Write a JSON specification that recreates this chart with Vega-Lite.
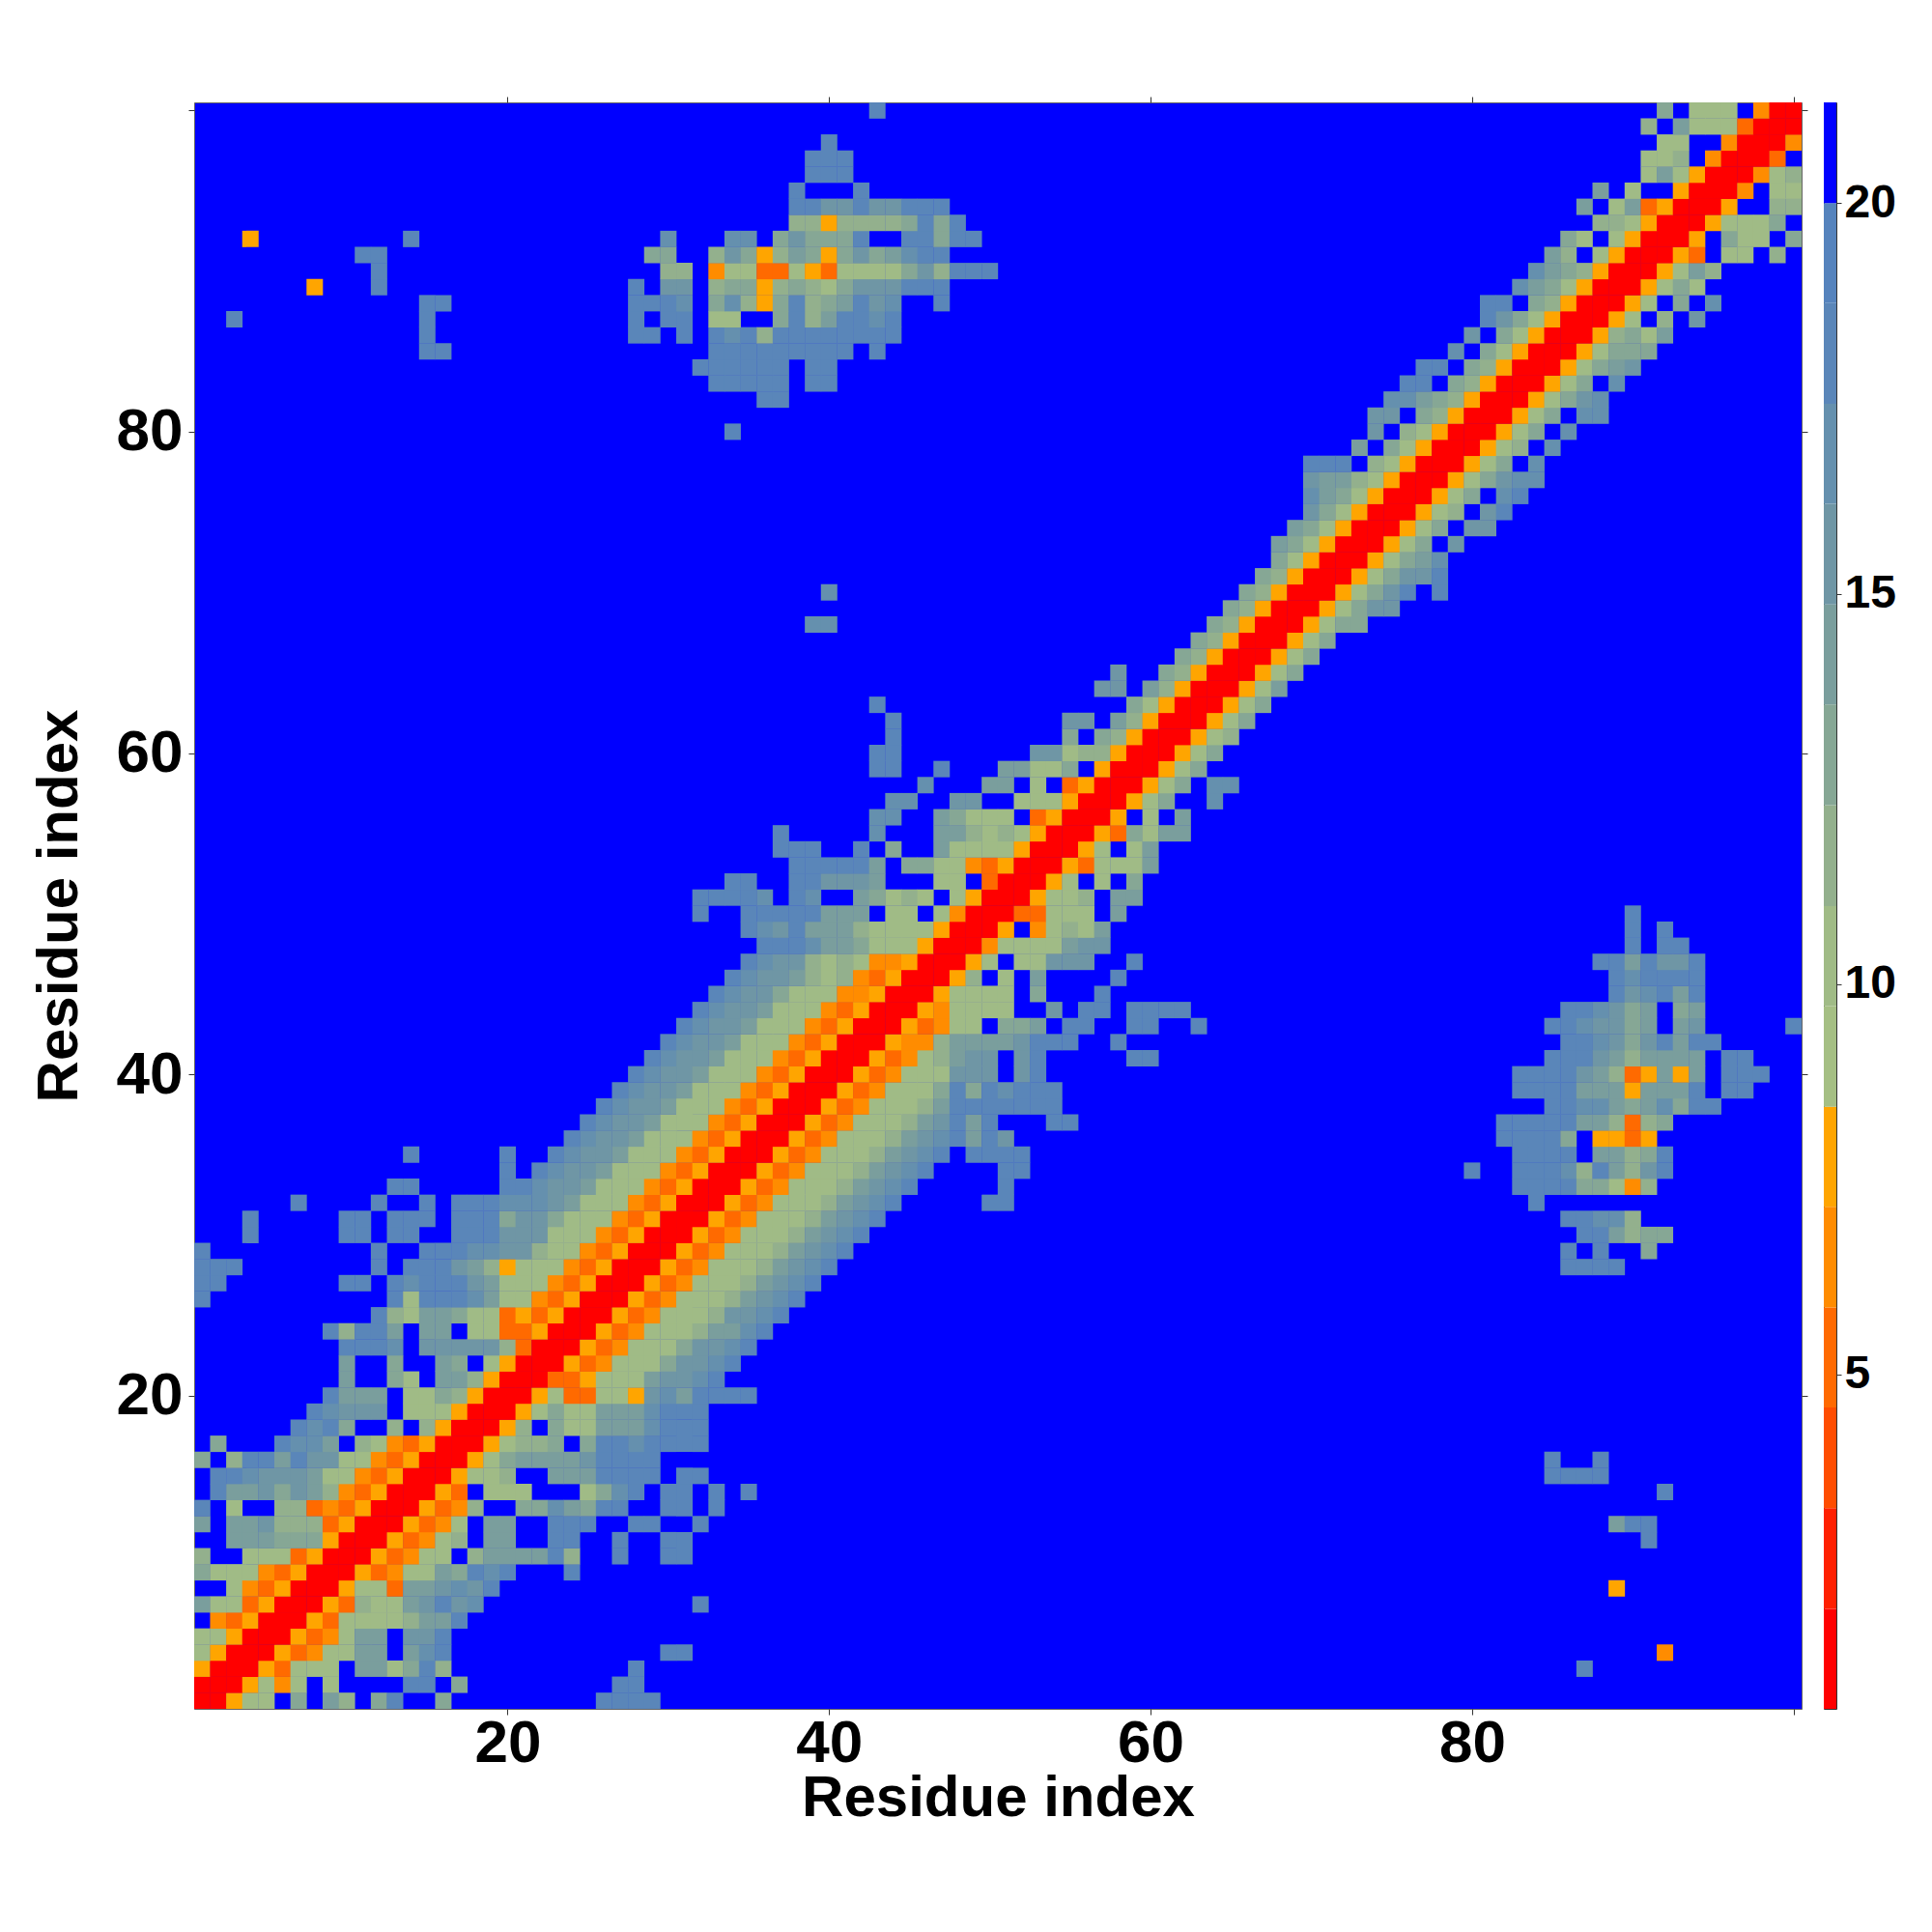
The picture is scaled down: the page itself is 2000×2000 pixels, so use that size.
{"$schema":"https://vega.github.io/schema/vega-lite/v6.json","background":"white","padding":{"left":30,"top":99,"right":5,"bottom":5},"config":{"font":"Liberation Sans"},"spacing":15,"hconcat":[{"width":1664,"height":1663,"view":{"fill":"#0000ff","stroke":"#666666"},"data":{"values":[
{"x":1,"y":1,"d":1},{"x":2,"y":1,"d":1},{"x":3,"y":1,"d":8},{"x":4,"y":1,"d":10},{"x":5,"y":1,"d":10},{"x":7,"y":1,"d":13},{"x":9,"y":1,"d":14},{"x":10,"y":1,"d":12},{"x":12,"y":1,"d":13},{"x":13,"y":1,"d":18},{"x":16,"y":1,"d":13},{"x":26,"y":1,"d":18},{"x":27,"y":1,"d":18},{"x":28,"y":1,"d":18},{"x":29,"y":1,"d":18},
{"x":1,"y":2,"d":1},{"x":2,"y":2,"d":1},{"x":3,"y":2,"d":1},{"x":4,"y":2,"d":8},{"x":5,"y":2,"d":10},{"x":6,"y":2,"d":7},{"x":7,"y":2,"d":10},{"x":9,"y":2,"d":10},{"x":14,"y":2,"d":18},{"x":15,"y":2,"d":18},{"x":17,"y":2,"d":13},{"x":27,"y":2,"d":18},{"x":28,"y":2,"d":18},
{"x":1,"y":3,"d":8},{"x":2,"y":3,"d":1},{"x":3,"y":3,"d":1},{"x":4,"y":3,"d":1},{"x":5,"y":3,"d":8},{"x":6,"y":3,"d":5},{"x":7,"y":3,"d":10},{"x":8,"y":3,"d":10},{"x":9,"y":3,"d":10},{"x":11,"y":3,"d":14},{"x":12,"y":3,"d":14},{"x":13,"y":3,"d":10},{"x":14,"y":3,"d":13},{"x":15,"y":3,"d":18},{"x":16,"y":3,"d":12},{"x":28,"y":3,"d":18},{"x":87,"y":3,"d":18},
{"x":1,"y":4,"d":10},{"x":2,"y":4,"d":8},{"x":3,"y":4,"d":1},{"x":4,"y":4,"d":1},{"x":5,"y":4,"d":1},{"x":6,"y":4,"d":8},{"x":7,"y":4,"d":5},{"x":8,"y":4,"d":7},{"x":9,"y":4,"d":10},{"x":10,"y":4,"d":10},{"x":11,"y":4,"d":14},{"x":12,"y":4,"d":14},{"x":14,"y":4,"d":14},{"x":15,"y":4,"d":17},{"x":16,"y":4,"d":18},{"x":30,"y":4,"d":18},{"x":31,"y":4,"d":18},{"x":92,"y":4,"d":7},
{"x":1,"y":5,"d":10},{"x":2,"y":5,"d":10},{"x":3,"y":5,"d":8},{"x":4,"y":5,"d":1},{"x":5,"y":5,"d":1},{"x":6,"y":5,"d":1},{"x":7,"y":5,"d":8},{"x":8,"y":5,"d":5},{"x":9,"y":5,"d":7},{"x":10,"y":5,"d":10},{"x":11,"y":5,"d":14},{"x":12,"y":5,"d":14},{"x":14,"y":5,"d":15},{"x":15,"y":5,"d":15},{"x":16,"y":5,"d":18},
{"x":2,"y":6,"d":7},{"x":3,"y":6,"d":5},{"x":4,"y":6,"d":8},{"x":5,"y":6,"d":1},{"x":6,"y":6,"d":1},{"x":7,"y":6,"d":1},{"x":8,"y":6,"d":8},{"x":9,"y":6,"d":5},{"x":10,"y":6,"d":10},{"x":11,"y":6,"d":10},{"x":12,"y":6,"d":10},{"x":13,"y":6,"d":10},{"x":14,"y":6,"d":12},{"x":15,"y":6,"d":14},{"x":16,"y":6,"d":14},{"x":17,"y":6,"d":18},
{"x":1,"y":7,"d":14},{"x":2,"y":7,"d":10},{"x":3,"y":7,"d":10},{"x":4,"y":7,"d":5},{"x":5,"y":7,"d":8},{"x":6,"y":7,"d":1},{"x":7,"y":7,"d":1},{"x":8,"y":7,"d":1},{"x":9,"y":7,"d":8},{"x":10,"y":7,"d":5},{"x":11,"y":7,"d":12},{"x":12,"y":7,"d":10},{"x":13,"y":7,"d":10},{"x":14,"y":7,"d":14},{"x":15,"y":7,"d":15},{"x":16,"y":7,"d":18},{"x":17,"y":7,"d":15},{"x":18,"y":7,"d":17},{"x":32,"y":7,"d":18},
{"x":3,"y":8,"d":10},{"x":4,"y":8,"d":7},{"x":5,"y":8,"d":5},{"x":6,"y":8,"d":8},{"x":7,"y":8,"d":1},{"x":8,"y":8,"d":1},{"x":9,"y":8,"d":1},{"x":10,"y":8,"d":8},{"x":11,"y":8,"d":10},{"x":12,"y":8,"d":10},{"x":13,"y":8,"d":5},{"x":14,"y":8,"d":14},{"x":15,"y":8,"d":14},{"x":16,"y":8,"d":15},{"x":17,"y":8,"d":17},{"x":18,"y":8,"d":15},{"x":19,"y":8,"d":18},{"x":89,"y":8,"d":8},
{"x":1,"y":9,"d":13},{"x":2,"y":9,"d":10},{"x":3,"y":9,"d":10},{"x":4,"y":9,"d":10},{"x":5,"y":9,"d":7},{"x":6,"y":9,"d":5},{"x":7,"y":9,"d":8},{"x":8,"y":9,"d":1},{"x":9,"y":9,"d":1},{"x":10,"y":9,"d":1},{"x":11,"y":9,"d":8},{"x":12,"y":9,"d":5},{"x":13,"y":9,"d":7},{"x":14,"y":9,"d":10},{"x":15,"y":9,"d":10},{"x":16,"y":9,"d":14},{"x":17,"y":9,"d":13},{"x":18,"y":9,"d":18},{"x":19,"y":9,"d":17},{"x":20,"y":9,"d":18},{"x":24,"y":9,"d":18},
{"x":1,"y":10,"d":12},{"x":4,"y":10,"d":10},{"x":5,"y":10,"d":10},{"x":6,"y":10,"d":10},{"x":7,"y":10,"d":5},{"x":8,"y":10,"d":8},{"x":9,"y":10,"d":1},{"x":10,"y":10,"d":1},{"x":11,"y":10,"d":1},{"x":12,"y":10,"d":8},{"x":13,"y":10,"d":5},{"x":14,"y":10,"d":7},{"x":15,"y":10,"d":10},{"x":16,"y":10,"d":10},{"x":18,"y":10,"d":12},{"x":19,"y":10,"d":14},{"x":20,"y":10,"d":14},{"x":21,"y":10,"d":14},{"x":22,"y":10,"d":14},{"x":23,"y":10,"d":18},{"x":24,"y":10,"d":12},{"x":27,"y":10,"d":18},{"x":30,"y":10,"d":18},{"x":31,"y":10,"d":18},
{"x":3,"y":11,"d":14},{"x":4,"y":11,"d":14},{"x":5,"y":11,"d":14},{"x":6,"y":11,"d":13},{"x":7,"y":11,"d":13},{"x":8,"y":11,"d":13},{"x":9,"y":11,"d":8},{"x":10,"y":11,"d":1},{"x":11,"y":11,"d":1},{"x":12,"y":11,"d":1},{"x":13,"y":11,"d":8},{"x":14,"y":11,"d":5},{"x":15,"y":11,"d":7},{"x":16,"y":11,"d":10},{"x":17,"y":11,"d":12},{"x":19,"y":11,"d":14},{"x":20,"y":11,"d":14},{"x":23,"y":11,"d":18},{"x":24,"y":11,"d":18},{"x":27,"y":11,"d":18},{"x":30,"y":11,"d":18},{"x":31,"y":11,"d":18},{"x":91,"y":11,"d":18},
{"x":1,"y":12,"d":14},{"x":3,"y":12,"d":14},{"x":4,"y":12,"d":14},{"x":5,"y":12,"d":15},{"x":6,"y":12,"d":12},{"x":7,"y":12,"d":12},{"x":8,"y":12,"d":12},{"x":9,"y":12,"d":5},{"x":10,"y":12,"d":8},{"x":11,"y":12,"d":1},{"x":12,"y":12,"d":1},{"x":13,"y":12,"d":1},{"x":14,"y":12,"d":8},{"x":15,"y":12,"d":5},{"x":16,"y":12,"d":7},{"x":17,"y":12,"d":10},{"x":19,"y":12,"d":14},{"x":20,"y":12,"d":14},{"x":23,"y":12,"d":18},{"x":24,"y":12,"d":18},{"x":25,"y":12,"d":18},{"x":28,"y":12,"d":18},{"x":29,"y":12,"d":18},{"x":32,"y":12,"d":18},{"x":89,"y":12,"d":14},{"x":90,"y":12,"d":18},{"x":91,"y":12,"d":18},
{"x":1,"y":13,"d":18},{"x":3,"y":13,"d":10},{"x":6,"y":13,"d":12},{"x":7,"y":13,"d":12},{"x":8,"y":13,"d":5},{"x":9,"y":13,"d":7},{"x":10,"y":13,"d":5},{"x":11,"y":13,"d":8},{"x":12,"y":13,"d":1},{"x":13,"y":13,"d":1},{"x":14,"y":13,"d":1},{"x":15,"y":13,"d":8},{"x":16,"y":13,"d":5},{"x":17,"y":13,"d":7},{"x":18,"y":13,"d":12},{"x":21,"y":13,"d":13},{"x":22,"y":13,"d":13},{"x":23,"y":13,"d":17},{"x":24,"y":13,"d":14},{"x":25,"y":13,"d":13},{"x":26,"y":13,"d":18},{"x":27,"y":13,"d":18},{"x":30,"y":13,"d":18},{"x":31,"y":13,"d":18},{"x":33,"y":13,"d":18},
{"x":2,"y":14,"d":18},{"x":3,"y":14,"d":14},{"x":4,"y":14,"d":14},{"x":5,"y":14,"d":15},{"x":6,"y":14,"d":13},{"x":7,"y":14,"d":15},{"x":8,"y":14,"d":14},{"x":9,"y":14,"d":12},{"x":10,"y":14,"d":7},{"x":11,"y":14,"d":5},{"x":12,"y":14,"d":8},{"x":13,"y":14,"d":1},{"x":14,"y":14,"d":1},{"x":15,"y":14,"d":1},{"x":16,"y":14,"d":8},{"x":17,"y":14,"d":5},{"x":19,"y":14,"d":10},{"x":20,"y":14,"d":10},{"x":21,"y":14,"d":10},{"x":25,"y":14,"d":10},{"x":26,"y":14,"d":13},{"x":27,"y":14,"d":17},{"x":28,"y":14,"d":18},{"x":30,"y":14,"d":18},{"x":31,"y":14,"d":18},{"x":33,"y":14,"d":18},{"x":35,"y":14,"d":18},{"x":92,"y":14,"d":18},
{"x":2,"y":15,"d":18},{"x":3,"y":15,"d":18},{"x":4,"y":15,"d":17},{"x":5,"y":15,"d":15},{"x":6,"y":15,"d":15},{"x":7,"y":15,"d":15},{"x":8,"y":15,"d":14},{"x":9,"y":15,"d":10},{"x":10,"y":15,"d":10},{"x":11,"y":15,"d":7},{"x":12,"y":15,"d":5},{"x":13,"y":15,"d":8},{"x":14,"y":15,"d":1},{"x":15,"y":15,"d":1},{"x":16,"y":15,"d":1},{"x":17,"y":15,"d":8},{"x":18,"y":15,"d":10},{"x":19,"y":15,"d":10},{"x":20,"y":15,"d":12},{"x":23,"y":15,"d":14},{"x":24,"y":15,"d":14},{"x":25,"y":15,"d":14},{"x":26,"y":15,"d":18},{"x":27,"y":15,"d":18},{"x":28,"y":15,"d":18},{"x":29,"y":15,"d":18},{"x":31,"y":15,"d":18},{"x":32,"y":15,"d":18},{"x":85,"y":15,"d":18},{"x":86,"y":15,"d":18},{"x":87,"y":15,"d":18},{"x":88,"y":15,"d":18},
{"x":1,"y":16,"d":13},{"x":3,"y":16,"d":12},{"x":4,"y":16,"d":18},{"x":5,"y":16,"d":18},{"x":6,"y":16,"d":14},{"x":7,"y":16,"d":18},{"x":8,"y":16,"d":15},{"x":9,"y":16,"d":15},{"x":10,"y":16,"d":10},{"x":11,"y":16,"d":10},{"x":12,"y":16,"d":7},{"x":13,"y":16,"d":5},{"x":14,"y":16,"d":8},{"x":15,"y":16,"d":1},{"x":16,"y":16,"d":1},{"x":17,"y":16,"d":1},{"x":18,"y":16,"d":8},{"x":19,"y":16,"d":10},{"x":20,"y":16,"d":13},{"x":21,"y":16,"d":14},{"x":22,"y":16,"d":14},{"x":23,"y":16,"d":14},{"x":24,"y":16,"d":14},{"x":25,"y":16,"d":15},{"x":26,"y":16,"d":18},{"x":27,"y":16,"d":18},{"x":28,"y":16,"d":18},{"x":29,"y":16,"d":18},{"x":85,"y":16,"d":18},{"x":88,"y":16,"d":18},
{"x":2,"y":17,"d":13},{"x":6,"y":17,"d":18},{"x":7,"y":17,"d":17},{"x":8,"y":17,"d":17},{"x":9,"y":17,"d":14},{"x":11,"y":17,"d":12},{"x":12,"y":17,"d":10},{"x":13,"y":17,"d":7},{"x":14,"y":17,"d":5},{"x":15,"y":17,"d":8},{"x":16,"y":17,"d":1},{"x":17,"y":17,"d":1},{"x":18,"y":17,"d":1},{"x":19,"y":17,"d":8},{"x":20,"y":17,"d":10},{"x":21,"y":17,"d":12},{"x":22,"y":17,"d":12},{"x":23,"y":17,"d":13},{"x":25,"y":17,"d":13},{"x":26,"y":17,"d":18},{"x":27,"y":17,"d":18},{"x":28,"y":17,"d":17},{"x":29,"y":17,"d":18},{"x":30,"y":17,"d":18},{"x":31,"y":17,"d":18},{"x":32,"y":17,"d":18},
{"x":7,"y":18,"d":18},{"x":8,"y":18,"d":17},{"x":9,"y":18,"d":18},{"x":10,"y":18,"d":13},{"x":13,"y":18,"d":12},{"x":15,"y":18,"d":12},{"x":16,"y":18,"d":8},{"x":17,"y":18,"d":1},{"x":18,"y":18,"d":1},{"x":19,"y":18,"d":1},{"x":20,"y":18,"d":8},{"x":21,"y":18,"d":12},{"x":23,"y":18,"d":13},{"x":24,"y":18,"d":10},{"x":25,"y":18,"d":10},{"x":26,"y":18,"d":14},{"x":27,"y":18,"d":14},{"x":28,"y":18,"d":14},{"x":29,"y":18,"d":17},{"x":30,"y":18,"d":18},{"x":31,"y":18,"d":18},{"x":32,"y":18,"d":18},
{"x":8,"y":19,"d":18},{"x":9,"y":19,"d":17},{"x":10,"y":19,"d":15},{"x":11,"y":19,"d":15},{"x":12,"y":19,"d":15},{"x":14,"y":19,"d":10},{"x":15,"y":19,"d":10},{"x":16,"y":19,"d":10},{"x":17,"y":19,"d":8},{"x":18,"y":19,"d":1},{"x":19,"y":19,"d":1},{"x":20,"y":19,"d":1},{"x":21,"y":19,"d":8},{"x":22,"y":19,"d":10},{"x":23,"y":19,"d":13},{"x":24,"y":19,"d":10},{"x":25,"y":19,"d":10},{"x":26,"y":19,"d":14},{"x":27,"y":19,"d":14},{"x":28,"y":19,"d":14},{"x":29,"y":19,"d":17},{"x":30,"y":19,"d":18},{"x":31,"y":19,"d":18},{"x":32,"y":19,"d":18},
{"x":9,"y":20,"d":18},{"x":10,"y":20,"d":14},{"x":11,"y":20,"d":14},{"x":12,"y":20,"d":14},{"x":14,"y":20,"d":10},{"x":15,"y":20,"d":10},{"x":16,"y":20,"d":13},{"x":17,"y":20,"d":12},{"x":18,"y":20,"d":8},{"x":19,"y":20,"d":1},{"x":20,"y":20,"d":1},{"x":21,"y":20,"d":1},{"x":22,"y":20,"d":8},{"x":23,"y":20,"d":10},{"x":24,"y":20,"d":5},{"x":25,"y":20,"d":5},{"x":26,"y":20,"d":10},{"x":27,"y":20,"d":10},{"x":28,"y":20,"d":8},{"x":29,"y":20,"d":15},{"x":30,"y":20,"d":17},{"x":31,"y":20,"d":14},{"x":32,"y":20,"d":18},{"x":33,"y":20,"d":18},{"x":34,"y":20,"d":18},{"x":35,"y":20,"d":18},
{"x":10,"y":21,"d":14},{"x":13,"y":21,"d":13},{"x":14,"y":21,"d":10},{"x":16,"y":21,"d":14},{"x":17,"y":21,"d":14},{"x":18,"y":21,"d":12},{"x":19,"y":21,"d":8},{"x":20,"y":21,"d":1},{"x":21,"y":21,"d":1},{"x":22,"y":21,"d":1},{"x":23,"y":21,"d":5},{"x":24,"y":21,"d":5},{"x":25,"y":21,"d":8},{"x":26,"y":21,"d":10},{"x":27,"y":21,"d":10},{"x":28,"y":21,"d":10},{"x":29,"y":21,"d":14},{"x":30,"y":21,"d":15},{"x":31,"y":21,"d":15},{"x":32,"y":21,"d":17},{"x":33,"y":21,"d":18},
{"x":10,"y":22,"d":14},{"x":13,"y":22,"d":13},{"x":16,"y":22,"d":14},{"x":17,"y":22,"d":13},{"x":19,"y":22,"d":10},{"x":20,"y":22,"d":8},{"x":21,"y":22,"d":1},{"x":22,"y":22,"d":1},{"x":23,"y":22,"d":1},{"x":24,"y":22,"d":8},{"x":25,"y":22,"d":5},{"x":26,"y":22,"d":7},{"x":27,"y":22,"d":10},{"x":28,"y":22,"d":10},{"x":29,"y":22,"d":10},{"x":30,"y":22,"d":13},{"x":31,"y":22,"d":15},{"x":32,"y":22,"d":15},{"x":33,"y":22,"d":17},{"x":34,"y":22,"d":18},
{"x":10,"y":23,"d":18},{"x":11,"y":23,"d":18},{"x":12,"y":23,"d":18},{"x":13,"y":23,"d":17},{"x":15,"y":23,"d":15},{"x":16,"y":23,"d":15},{"x":17,"y":23,"d":15},{"x":18,"y":23,"d":15},{"x":19,"y":23,"d":15},{"x":20,"y":23,"d":12},{"x":21,"y":23,"d":5},{"x":22,"y":23,"d":1},{"x":23,"y":23,"d":1},{"x":24,"y":23,"d":1},{"x":25,"y":23,"d":8},{"x":26,"y":23,"d":5},{"x":27,"y":23,"d":7},{"x":28,"y":23,"d":10},{"x":29,"y":23,"d":10},{"x":30,"y":23,"d":10},{"x":31,"y":23,"d":13},{"x":32,"y":23,"d":15},{"x":33,"y":23,"d":15},{"x":34,"y":23,"d":17},{"x":35,"y":23,"d":18},
{"x":9,"y":24,"d":18},{"x":10,"y":24,"d":12},{"x":11,"y":24,"d":18},{"x":12,"y":24,"d":18},{"x":13,"y":24,"d":14},{"x":15,"y":24,"d":14},{"x":16,"y":24,"d":14},{"x":18,"y":24,"d":10},{"x":19,"y":24,"d":10},{"x":20,"y":24,"d":5},{"x":21,"y":24,"d":5},{"x":22,"y":24,"d":8},{"x":23,"y":24,"d":1},{"x":24,"y":24,"d":1},{"x":25,"y":24,"d":1},{"x":26,"y":24,"d":8},{"x":27,"y":24,"d":5},{"x":28,"y":24,"d":7},{"x":29,"y":24,"d":10},{"x":30,"y":24,"d":10},{"x":31,"y":24,"d":10},{"x":32,"y":24,"d":12},{"x":33,"y":24,"d":14},{"x":34,"y":24,"d":14},{"x":35,"y":24,"d":17},{"x":36,"y":24,"d":18},
{"x":12,"y":25,"d":18},{"x":13,"y":25,"d":12},{"x":14,"y":25,"d":10},{"x":15,"y":25,"d":14},{"x":16,"y":25,"d":14},{"x":17,"y":25,"d":13},{"x":18,"y":25,"d":10},{"x":19,"y":25,"d":10},{"x":20,"y":25,"d":5},{"x":21,"y":25,"d":8},{"x":22,"y":25,"d":5},{"x":23,"y":25,"d":8},{"x":24,"y":25,"d":1},{"x":25,"y":25,"d":1},{"x":26,"y":25,"d":1},{"x":27,"y":25,"d":8},{"x":28,"y":25,"d":5},{"x":29,"y":25,"d":7},{"x":30,"y":25,"d":10},{"x":31,"y":25,"d":10},{"x":32,"y":25,"d":10},{"x":33,"y":25,"d":12},{"x":34,"y":25,"d":15},{"x":35,"y":25,"d":15},{"x":36,"y":25,"d":17},{"x":37,"y":25,"d":18},
{"x":1,"y":26,"d":18},{"x":13,"y":26,"d":18},{"x":14,"y":26,"d":10},{"x":15,"y":26,"d":18},{"x":16,"y":26,"d":18},{"x":17,"y":26,"d":18},{"x":18,"y":26,"d":17},{"x":19,"y":26,"d":14},{"x":20,"y":26,"d":10},{"x":21,"y":26,"d":10},{"x":22,"y":26,"d":7},{"x":23,"y":26,"d":5},{"x":24,"y":26,"d":8},{"x":25,"y":26,"d":1},{"x":26,"y":26,"d":1},{"x":27,"y":26,"d":1},{"x":28,"y":26,"d":8},{"x":29,"y":26,"d":5},{"x":30,"y":26,"d":7},{"x":31,"y":26,"d":10},{"x":32,"y":26,"d":10},{"x":33,"y":26,"d":10},{"x":34,"y":26,"d":12},{"x":35,"y":26,"d":14},{"x":36,"y":26,"d":15},{"x":37,"y":26,"d":17},{"x":38,"y":26,"d":18},
{"x":1,"y":27,"d":18},{"x":2,"y":27,"d":18},{"x":10,"y":27,"d":18},{"x":11,"y":27,"d":18},{"x":13,"y":27,"d":18},{"x":14,"y":27,"d":17},{"x":15,"y":27,"d":18},{"x":16,"y":27,"d":18},{"x":17,"y":27,"d":18},{"x":18,"y":27,"d":15},{"x":19,"y":27,"d":14},{"x":20,"y":27,"d":10},{"x":21,"y":27,"d":10},{"x":22,"y":27,"d":10},{"x":23,"y":27,"d":7},{"x":24,"y":27,"d":5},{"x":25,"y":27,"d":8},{"x":26,"y":27,"d":1},{"x":27,"y":27,"d":1},{"x":28,"y":27,"d":1},{"x":29,"y":27,"d":8},{"x":30,"y":27,"d":5},{"x":31,"y":27,"d":7},{"x":32,"y":27,"d":10},{"x":33,"y":27,"d":10},{"x":34,"y":27,"d":10},{"x":35,"y":27,"d":12},{"x":36,"y":27,"d":14},{"x":37,"y":27,"d":15},{"x":38,"y":27,"d":17},{"x":39,"y":27,"d":18},
{"x":1,"y":28,"d":18},{"x":2,"y":28,"d":18},{"x":3,"y":28,"d":18},{"x":12,"y":28,"d":18},{"x":14,"y":28,"d":18},{"x":15,"y":28,"d":18},{"x":16,"y":28,"d":18},{"x":17,"y":28,"d":15},{"x":18,"y":28,"d":14},{"x":19,"y":28,"d":12},{"x":20,"y":28,"d":8},{"x":21,"y":28,"d":10},{"x":22,"y":28,"d":10},{"x":23,"y":28,"d":10},{"x":24,"y":28,"d":7},{"x":25,"y":28,"d":5},{"x":26,"y":28,"d":8},{"x":27,"y":28,"d":1},{"x":28,"y":28,"d":1},{"x":29,"y":28,"d":1},{"x":30,"y":28,"d":8},{"x":31,"y":28,"d":5},{"x":32,"y":28,"d":7},{"x":33,"y":28,"d":10},{"x":34,"y":28,"d":10},{"x":35,"y":28,"d":10},{"x":36,"y":28,"d":12},{"x":37,"y":28,"d":14},{"x":38,"y":28,"d":15},{"x":39,"y":28,"d":17},{"x":40,"y":28,"d":18},{"x":86,"y":28,"d":18},{"x":87,"y":28,"d":18},{"x":88,"y":28,"d":18},{"x":89,"y":28,"d":18},
{"x":1,"y":29,"d":18},{"x":12,"y":29,"d":18},{"x":15,"y":29,"d":18},{"x":16,"y":29,"d":18},{"x":17,"y":29,"d":18},{"x":18,"y":29,"d":17},{"x":19,"y":29,"d":17},{"x":20,"y":29,"d":15},{"x":21,"y":29,"d":15},{"x":22,"y":29,"d":12},{"x":23,"y":29,"d":10},{"x":24,"y":29,"d":10},{"x":25,"y":29,"d":7},{"x":26,"y":29,"d":5},{"x":27,"y":29,"d":8},{"x":28,"y":29,"d":1},{"x":29,"y":29,"d":1},{"x":30,"y":29,"d":1},{"x":31,"y":29,"d":8},{"x":32,"y":29,"d":5},{"x":33,"y":29,"d":7},{"x":34,"y":29,"d":10},{"x":35,"y":29,"d":10},{"x":36,"y":29,"d":10},{"x":37,"y":29,"d":12},{"x":38,"y":29,"d":14},{"x":39,"y":29,"d":15},{"x":40,"y":29,"d":17},{"x":41,"y":29,"d":18},{"x":86,"y":29,"d":18},{"x":88,"y":29,"d":18},{"x":91,"y":29,"d":13},
{"x":4,"y":30,"d":18},{"x":10,"y":30,"d":18},{"x":11,"y":30,"d":18},{"x":13,"y":30,"d":18},{"x":14,"y":30,"d":18},{"x":17,"y":30,"d":18},{"x":18,"y":30,"d":18},{"x":19,"y":30,"d":18},{"x":20,"y":30,"d":15},{"x":21,"y":30,"d":15},{"x":22,"y":30,"d":15},{"x":23,"y":30,"d":10},{"x":24,"y":30,"d":10},{"x":25,"y":30,"d":10},{"x":26,"y":30,"d":7},{"x":27,"y":30,"d":5},{"x":28,"y":30,"d":8},{"x":29,"y":30,"d":1},{"x":30,"y":30,"d":1},{"x":31,"y":30,"d":1},{"x":32,"y":30,"d":8},{"x":33,"y":30,"d":5},{"x":34,"y":30,"d":7},{"x":35,"y":30,"d":10},{"x":36,"y":30,"d":10},{"x":37,"y":30,"d":10},{"x":38,"y":30,"d":12},{"x":39,"y":30,"d":14},{"x":40,"y":30,"d":15},{"x":41,"y":30,"d":17},{"x":42,"y":30,"d":18},{"x":87,"y":30,"d":18},{"x":88,"y":30,"d":18},{"x":89,"y":30,"d":14},{"x":90,"y":30,"d":12},{"x":91,"y":30,"d":13},{"x":92,"y":30,"d":13},
{"x":4,"y":31,"d":18},{"x":10,"y":31,"d":18},{"x":11,"y":31,"d":18},{"x":13,"y":31,"d":18},{"x":14,"y":31,"d":18},{"x":15,"y":31,"d":18},{"x":17,"y":31,"d":18},{"x":18,"y":31,"d":18},{"x":19,"y":31,"d":18},{"x":20,"y":31,"d":13},{"x":21,"y":31,"d":15},{"x":22,"y":31,"d":15},{"x":23,"y":31,"d":13},{"x":24,"y":31,"d":10},{"x":25,"y":31,"d":10},{"x":26,"y":31,"d":10},{"x":27,"y":31,"d":7},{"x":28,"y":31,"d":5},{"x":29,"y":31,"d":8},{"x":30,"y":31,"d":1},{"x":31,"y":31,"d":1},{"x":32,"y":31,"d":1},{"x":33,"y":31,"d":8},{"x":34,"y":31,"d":5},{"x":35,"y":31,"d":7},{"x":36,"y":31,"d":10},{"x":37,"y":31,"d":10},{"x":38,"y":31,"d":10},{"x":39,"y":31,"d":12},{"x":40,"y":31,"d":14},{"x":41,"y":31,"d":15},{"x":42,"y":31,"d":17},{"x":43,"y":31,"d":18},{"x":86,"y":31,"d":18},{"x":87,"y":31,"d":18},{"x":88,"y":31,"d":17},{"x":89,"y":31,"d":17},{"x":90,"y":31,"d":12},
{"x":7,"y":32,"d":18},{"x":12,"y":32,"d":18},{"x":15,"y":32,"d":18},{"x":17,"y":32,"d":18},{"x":18,"y":32,"d":18},{"x":19,"y":32,"d":18},{"x":20,"y":32,"d":17},{"x":21,"y":32,"d":17},{"x":22,"y":32,"d":17},{"x":23,"y":32,"d":15},{"x":24,"y":32,"d":14},{"x":25,"y":32,"d":10},{"x":26,"y":32,"d":10},{"x":27,"y":32,"d":10},{"x":28,"y":32,"d":7},{"x":29,"y":32,"d":5},{"x":30,"y":32,"d":8},{"x":31,"y":32,"d":1},{"x":32,"y":32,"d":1},{"x":33,"y":32,"d":1},{"x":34,"y":32,"d":8},{"x":35,"y":32,"d":5},{"x":36,"y":32,"d":7},{"x":37,"y":32,"d":10},{"x":38,"y":32,"d":10},{"x":39,"y":32,"d":10},{"x":40,"y":32,"d":12},{"x":41,"y":32,"d":14},{"x":42,"y":32,"d":15},{"x":43,"y":32,"d":17},{"x":44,"y":32,"d":18},{"x":50,"y":32,"d":18},{"x":51,"y":32,"d":18},{"x":84,"y":32,"d":18},
{"x":13,"y":33,"d":18},{"x":14,"y":33,"d":18},{"x":20,"y":33,"d":18},{"x":21,"y":33,"d":18},{"x":22,"y":33,"d":17},{"x":23,"y":33,"d":15},{"x":24,"y":33,"d":15},{"x":25,"y":33,"d":14},{"x":26,"y":33,"d":10},{"x":27,"y":33,"d":10},{"x":28,"y":33,"d":10},{"x":29,"y":33,"d":7},{"x":30,"y":33,"d":5},{"x":31,"y":33,"d":8},{"x":32,"y":33,"d":1},{"x":33,"y":33,"d":1},{"x":34,"y":33,"d":1},{"x":35,"y":33,"d":8},{"x":36,"y":33,"d":5},{"x":37,"y":33,"d":7},{"x":38,"y":33,"d":10},{"x":39,"y":33,"d":10},{"x":40,"y":33,"d":10},{"x":41,"y":33,"d":12},{"x":42,"y":33,"d":14},{"x":43,"y":33,"d":15},{"x":44,"y":33,"d":17},{"x":45,"y":33,"d":18},{"x":51,"y":33,"d":18},{"x":83,"y":33,"d":18},{"x":84,"y":33,"d":18},{"x":85,"y":33,"d":18},{"x":86,"y":33,"d":18},{"x":87,"y":33,"d":13},{"x":88,"y":33,"d":13},{"x":89,"y":33,"d":10},{"x":90,"y":33,"d":7},{"x":91,"y":33,"d":12},
{"x":20,"y":34,"d":18},{"x":22,"y":34,"d":18},{"x":23,"y":34,"d":17},{"x":24,"y":34,"d":15},{"x":25,"y":34,"d":15},{"x":26,"y":34,"d":14},{"x":27,"y":34,"d":10},{"x":28,"y":34,"d":10},{"x":29,"y":34,"d":10},{"x":30,"y":34,"d":7},{"x":31,"y":34,"d":5},{"x":32,"y":34,"d":8},{"x":33,"y":34,"d":1},{"x":34,"y":34,"d":1},{"x":35,"y":34,"d":1},{"x":36,"y":34,"d":8},{"x":37,"y":34,"d":5},{"x":38,"y":34,"d":7},{"x":39,"y":34,"d":10},{"x":40,"y":34,"d":10},{"x":41,"y":34,"d":10},{"x":42,"y":34,"d":12},{"x":43,"y":34,"d":14},{"x":44,"y":34,"d":15},{"x":45,"y":34,"d":17},{"x":46,"y":34,"d":18},{"x":51,"y":34,"d":18},{"x":52,"y":34,"d":18},{"x":80,"y":34,"d":18},{"x":83,"y":34,"d":18},{"x":84,"y":34,"d":18},{"x":85,"y":34,"d":18},{"x":86,"y":34,"d":17},{"x":87,"y":34,"d":12},{"x":88,"y":34,"d":18},{"x":89,"y":34,"d":14},{"x":90,"y":34,"d":12},{"x":91,"y":34,"d":15},{"x":92,"y":34,"d":18},
{"x":14,"y":35,"d":18},{"x":20,"y":35,"d":18},{"x":23,"y":35,"d":18},{"x":24,"y":35,"d":17},{"x":25,"y":35,"d":15},{"x":26,"y":35,"d":15},{"x":27,"y":35,"d":14},{"x":28,"y":35,"d":10},{"x":29,"y":35,"d":10},{"x":30,"y":35,"d":10},{"x":31,"y":35,"d":7},{"x":32,"y":35,"d":5},{"x":33,"y":35,"d":8},{"x":34,"y":35,"d":1},{"x":35,"y":35,"d":1},{"x":36,"y":35,"d":1},{"x":37,"y":35,"d":8},{"x":38,"y":35,"d":5},{"x":39,"y":35,"d":7},{"x":40,"y":35,"d":10},{"x":41,"y":35,"d":10},{"x":42,"y":35,"d":10},{"x":43,"y":35,"d":12},{"x":44,"y":35,"d":14},{"x":45,"y":35,"d":15},{"x":46,"y":35,"d":17},{"x":47,"y":35,"d":18},{"x":49,"y":35,"d":18},{"x":50,"y":35,"d":18},{"x":51,"y":35,"d":18},{"x":52,"y":35,"d":18},{"x":83,"y":35,"d":18},{"x":84,"y":35,"d":18},{"x":85,"y":35,"d":18},{"x":86,"y":35,"d":18},{"x":88,"y":35,"d":14},{"x":89,"y":35,"d":14},{"x":90,"y":35,"d":12},{"x":91,"y":35,"d":13},{"x":92,"y":35,"d":18},
{"x":24,"y":36,"d":18},{"x":25,"y":36,"d":17},{"x":26,"y":36,"d":15},{"x":27,"y":36,"d":15},{"x":28,"y":36,"d":14},{"x":29,"y":36,"d":10},{"x":30,"y":36,"d":10},{"x":31,"y":36,"d":10},{"x":32,"y":36,"d":7},{"x":33,"y":36,"d":5},{"x":34,"y":36,"d":8},{"x":35,"y":36,"d":1},{"x":36,"y":36,"d":1},{"x":37,"y":36,"d":1},{"x":38,"y":36,"d":8},{"x":39,"y":36,"d":5},{"x":40,"y":36,"d":7},{"x":41,"y":36,"d":10},{"x":42,"y":36,"d":10},{"x":43,"y":36,"d":10},{"x":44,"y":36,"d":12},{"x":45,"y":36,"d":14},{"x":46,"y":36,"d":15},{"x":47,"y":36,"d":17},{"x":48,"y":36,"d":18},{"x":49,"y":36,"d":14},{"x":50,"y":36,"d":18},{"x":51,"y":36,"d":15},{"x":82,"y":36,"d":18},{"x":83,"y":36,"d":18},{"x":84,"y":36,"d":18},{"x":85,"y":36,"d":18},{"x":86,"y":36,"d":13},{"x":88,"y":36,"d":8},{"x":89,"y":36,"d":8},{"x":90,"y":36,"d":5},{"x":91,"y":36,"d":8},
{"x":25,"y":37,"d":18},{"x":26,"y":37,"d":17},{"x":27,"y":37,"d":15},{"x":28,"y":37,"d":15},{"x":29,"y":37,"d":14},{"x":30,"y":37,"d":10},{"x":31,"y":37,"d":10},{"x":32,"y":37,"d":10},{"x":33,"y":37,"d":7},{"x":34,"y":37,"d":5},{"x":35,"y":37,"d":8},{"x":36,"y":37,"d":1},{"x":37,"y":37,"d":1},{"x":38,"y":37,"d":1},{"x":39,"y":37,"d":8},{"x":40,"y":37,"d":5},{"x":41,"y":37,"d":7},{"x":42,"y":37,"d":10},{"x":43,"y":37,"d":10},{"x":44,"y":37,"d":10},{"x":45,"y":37,"d":12},{"x":46,"y":37,"d":14},{"x":47,"y":37,"d":15},{"x":48,"y":37,"d":18},{"x":49,"y":37,"d":14},{"x":50,"y":37,"d":18},{"x":54,"y":37,"d":18},{"x":55,"y":37,"d":18},{"x":82,"y":37,"d":18},{"x":83,"y":37,"d":18},{"x":84,"y":37,"d":18},{"x":85,"y":37,"d":18},{"x":86,"y":37,"d":18},{"x":87,"y":37,"d":14},{"x":88,"y":37,"d":14},{"x":89,"y":37,"d":12},{"x":90,"y":37,"d":5},{"x":91,"y":37,"d":12},{"x":92,"y":37,"d":13},
{"x":26,"y":38,"d":18},{"x":27,"y":38,"d":17},{"x":28,"y":38,"d":15},{"x":29,"y":38,"d":15},{"x":30,"y":38,"d":14},{"x":31,"y":38,"d":10},{"x":32,"y":38,"d":10},{"x":33,"y":38,"d":10},{"x":34,"y":38,"d":7},{"x":35,"y":38,"d":5},{"x":36,"y":38,"d":8},{"x":37,"y":38,"d":1},{"x":38,"y":38,"d":1},{"x":39,"y":38,"d":1},{"x":40,"y":38,"d":8},{"x":41,"y":38,"d":5},{"x":42,"y":38,"d":7},{"x":43,"y":38,"d":10},{"x":44,"y":38,"d":10},{"x":45,"y":38,"d":10},{"x":46,"y":38,"d":12},{"x":47,"y":38,"d":14},{"x":48,"y":38,"d":18},{"x":49,"y":38,"d":18},{"x":50,"y":38,"d":18},{"x":51,"y":38,"d":18},{"x":52,"y":38,"d":18},{"x":53,"y":38,"d":18},{"x":54,"y":38,"d":18},{"x":85,"y":38,"d":18},{"x":86,"y":38,"d":18},{"x":87,"y":38,"d":17},{"x":88,"y":38,"d":17},{"x":89,"y":38,"d":14},{"x":90,"y":38,"d":13},{"x":91,"y":38,"d":14},{"x":92,"y":38,"d":17},{"x":93,"y":38,"d":13},{"x":94,"y":38,"d":18},{"x":95,"y":38,"d":18},
{"x":27,"y":39,"d":18},{"x":28,"y":39,"d":17},{"x":29,"y":39,"d":15},{"x":30,"y":39,"d":15},{"x":31,"y":39,"d":14},{"x":32,"y":39,"d":10},{"x":33,"y":39,"d":10},{"x":34,"y":39,"d":10},{"x":35,"y":39,"d":7},{"x":36,"y":39,"d":5},{"x":37,"y":39,"d":8},{"x":38,"y":39,"d":1},{"x":39,"y":39,"d":1},{"x":40,"y":39,"d":1},{"x":41,"y":39,"d":8},{"x":42,"y":39,"d":5},{"x":43,"y":39,"d":7},{"x":44,"y":39,"d":10},{"x":45,"y":39,"d":10},{"x":46,"y":39,"d":10},{"x":47,"y":39,"d":13},{"x":48,"y":39,"d":18},{"x":49,"y":39,"d":13},{"x":50,"y":39,"d":18},{"x":51,"y":39,"d":17},{"x":52,"y":39,"d":18},{"x":53,"y":39,"d":18},{"x":54,"y":39,"d":18},{"x":83,"y":39,"d":18},{"x":84,"y":39,"d":18},{"x":85,"y":39,"d":18},{"x":86,"y":39,"d":18},{"x":87,"y":39,"d":14},{"x":88,"y":39,"d":14},{"x":89,"y":39,"d":14},{"x":90,"y":39,"d":8},{"x":91,"y":39,"d":14},{"x":92,"y":39,"d":14},{"x":93,"y":39,"d":14},{"x":94,"y":39,"d":18},{"x":96,"y":39,"d":18},{"x":97,"y":39,"d":18},
{"x":28,"y":40,"d":18},{"x":29,"y":40,"d":17},{"x":30,"y":40,"d":15},{"x":31,"y":40,"d":15},{"x":32,"y":40,"d":14},{"x":33,"y":40,"d":10},{"x":34,"y":40,"d":10},{"x":35,"y":40,"d":10},{"x":36,"y":40,"d":7},{"x":37,"y":40,"d":5},{"x":38,"y":40,"d":8},{"x":39,"y":40,"d":1},{"x":40,"y":40,"d":1},{"x":41,"y":40,"d":1},{"x":42,"y":40,"d":8},{"x":43,"y":40,"d":5},{"x":44,"y":40,"d":7},{"x":45,"y":40,"d":10},{"x":46,"y":40,"d":10},{"x":47,"y":40,"d":10},{"x":48,"y":40,"d":15},{"x":49,"y":40,"d":15},{"x":50,"y":40,"d":15},{"x":52,"y":40,"d":15},{"x":53,"y":40,"d":18},{"x":83,"y":40,"d":18},{"x":84,"y":40,"d":18},{"x":85,"y":40,"d":18},{"x":86,"y":40,"d":18},{"x":87,"y":40,"d":15},{"x":88,"y":40,"d":14},{"x":89,"y":40,"d":12},{"x":90,"y":40,"d":5},{"x":91,"y":40,"d":8},{"x":92,"y":40,"d":14},{"x":93,"y":40,"d":8},{"x":94,"y":40,"d":14},{"x":96,"y":40,"d":18},{"x":97,"y":40,"d":18},{"x":98,"y":40,"d":18},
{"x":29,"y":41,"d":18},{"x":30,"y":41,"d":17},{"x":31,"y":41,"d":15},{"x":32,"y":41,"d":15},{"x":33,"y":41,"d":14},{"x":34,"y":41,"d":10},{"x":35,"y":41,"d":10},{"x":36,"y":41,"d":10},{"x":37,"y":41,"d":7},{"x":38,"y":41,"d":5},{"x":39,"y":41,"d":8},{"x":40,"y":41,"d":1},{"x":41,"y":41,"d":1},{"x":42,"y":41,"d":1},{"x":43,"y":41,"d":8},{"x":44,"y":41,"d":5},{"x":45,"y":41,"d":7},{"x":46,"y":41,"d":10},{"x":47,"y":41,"d":12},{"x":48,"y":41,"d":14},{"x":49,"y":41,"d":15},{"x":50,"y":41,"d":15},{"x":52,"y":41,"d":15},{"x":53,"y":41,"d":18},{"x":59,"y":41,"d":18},{"x":60,"y":41,"d":18},{"x":85,"y":41,"d":18},{"x":86,"y":41,"d":18},{"x":87,"y":41,"d":18},{"x":88,"y":41,"d":15},{"x":89,"y":41,"d":14},{"x":90,"y":41,"d":12},{"x":91,"y":41,"d":14},{"x":92,"y":41,"d":14},{"x":93,"y":41,"d":14},{"x":94,"y":41,"d":14},{"x":96,"y":41,"d":18},{"x":97,"y":41,"d":18},
{"x":30,"y":42,"d":18},{"x":31,"y":42,"d":17},{"x":32,"y":42,"d":15},{"x":33,"y":42,"d":15},{"x":34,"y":42,"d":14},{"x":35,"y":42,"d":10},{"x":36,"y":42,"d":10},{"x":37,"y":42,"d":10},{"x":38,"y":42,"d":7},{"x":39,"y":42,"d":5},{"x":40,"y":42,"d":8},{"x":41,"y":42,"d":1},{"x":42,"y":42,"d":1},{"x":43,"y":42,"d":1},{"x":44,"y":42,"d":8},{"x":45,"y":42,"d":7},{"x":46,"y":42,"d":7},{"x":47,"y":42,"d":12},{"x":48,"y":42,"d":14},{"x":49,"y":42,"d":14},{"x":50,"y":42,"d":14},{"x":51,"y":42,"d":14},{"x":52,"y":42,"d":15},{"x":53,"y":42,"d":18},{"x":54,"y":42,"d":18},{"x":55,"y":42,"d":18},{"x":58,"y":42,"d":18},{"x":86,"y":42,"d":18},{"x":87,"y":42,"d":18},{"x":88,"y":42,"d":17},{"x":89,"y":42,"d":15},{"x":90,"y":42,"d":13},{"x":91,"y":42,"d":15},{"x":92,"y":42,"d":18},{"x":93,"y":42,"d":14},{"x":94,"y":42,"d":18},{"x":95,"y":42,"d":18},
{"x":31,"y":43,"d":18},{"x":32,"y":43,"d":17},{"x":33,"y":43,"d":15},{"x":34,"y":43,"d":15},{"x":35,"y":43,"d":14},{"x":36,"y":43,"d":10},{"x":37,"y":43,"d":10},{"x":38,"y":43,"d":10},{"x":39,"y":43,"d":7},{"x":40,"y":43,"d":5},{"x":41,"y":43,"d":8},{"x":42,"y":43,"d":1},{"x":43,"y":43,"d":1},{"x":44,"y":43,"d":1},{"x":45,"y":43,"d":8},{"x":46,"y":43,"d":5},{"x":47,"y":43,"d":7},{"x":48,"y":43,"d":10},{"x":49,"y":43,"d":10},{"x":51,"y":43,"d":13},{"x":52,"y":43,"d":13},{"x":53,"y":43,"d":14},{"x":55,"y":43,"d":18},{"x":56,"y":43,"d":18},{"x":59,"y":43,"d":18},{"x":60,"y":43,"d":18},{"x":63,"y":43,"d":18},{"x":85,"y":43,"d":18},{"x":86,"y":43,"d":18},{"x":87,"y":43,"d":17},{"x":88,"y":43,"d":15},{"x":89,"y":43,"d":15},{"x":90,"y":43,"d":13},{"x":91,"y":43,"d":14},{"x":93,"y":43,"d":14},{"x":94,"y":43,"d":15},{"x":100,"y":43,"d":18},
{"x":32,"y":44,"d":18},{"x":33,"y":44,"d":17},{"x":34,"y":44,"d":15},{"x":35,"y":44,"d":15},{"x":36,"y":44,"d":14},{"x":37,"y":44,"d":10},{"x":38,"y":44,"d":10},{"x":39,"y":44,"d":10},{"x":40,"y":44,"d":7},{"x":41,"y":44,"d":5},{"x":42,"y":44,"d":8},{"x":43,"y":44,"d":1},{"x":44,"y":44,"d":1},{"x":45,"y":44,"d":1},{"x":46,"y":44,"d":8},{"x":47,"y":44,"d":7},{"x":48,"y":44,"d":10},{"x":49,"y":44,"d":10},{"x":50,"y":44,"d":10},{"x":51,"y":44,"d":10},{"x":54,"y":44,"d":15},{"x":56,"y":44,"d":18},{"x":57,"y":44,"d":18},{"x":59,"y":44,"d":18},{"x":60,"y":44,"d":18},{"x":61,"y":44,"d":18},{"x":62,"y":44,"d":18},{"x":86,"y":44,"d":18},{"x":87,"y":44,"d":18},{"x":88,"y":44,"d":17},{"x":89,"y":44,"d":15},{"x":90,"y":44,"d":13},{"x":91,"y":44,"d":14},{"x":93,"y":44,"d":13},{"x":94,"y":44,"d":14},
{"x":33,"y":45,"d":18},{"x":34,"y":45,"d":17},{"x":35,"y":45,"d":15},{"x":36,"y":45,"d":15},{"x":37,"y":45,"d":13},{"x":38,"y":45,"d":10},{"x":39,"y":45,"d":10},{"x":40,"y":45,"d":10},{"x":41,"y":45,"d":7},{"x":42,"y":45,"d":7},{"x":43,"y":45,"d":8},{"x":44,"y":45,"d":1},{"x":45,"y":45,"d":1},{"x":46,"y":45,"d":1},{"x":47,"y":45,"d":8},{"x":48,"y":45,"d":10},{"x":49,"y":45,"d":10},{"x":50,"y":45,"d":10},{"x":51,"y":45,"d":10},{"x":53,"y":45,"d":13},{"x":57,"y":45,"d":18},{"x":89,"y":45,"d":18},{"x":90,"y":45,"d":15},{"x":91,"y":45,"d":17},{"x":92,"y":45,"d":18},{"x":93,"y":45,"d":14},{"x":94,"y":45,"d":18},
{"x":34,"y":46,"d":18},{"x":35,"y":46,"d":17},{"x":36,"y":46,"d":15},{"x":37,"y":46,"d":15},{"x":38,"y":46,"d":14},{"x":39,"y":46,"d":12},{"x":40,"y":46,"d":10},{"x":41,"y":46,"d":12},{"x":42,"y":46,"d":7},{"x":43,"y":46,"d":5},{"x":44,"y":46,"d":8},{"x":45,"y":46,"d":1},{"x":46,"y":46,"d":1},{"x":47,"y":46,"d":1},{"x":48,"y":46,"d":8},{"x":49,"y":46,"d":12},{"x":51,"y":46,"d":10},{"x":53,"y":46,"d":14},{"x":58,"y":46,"d":18},{"x":89,"y":46,"d":18},{"x":90,"y":46,"d":17},{"x":91,"y":46,"d":18},{"x":92,"y":46,"d":18},{"x":93,"y":46,"d":18},{"x":94,"y":46,"d":18},
{"x":35,"y":47,"d":18},{"x":36,"y":47,"d":17},{"x":37,"y":47,"d":15},{"x":38,"y":47,"d":15},{"x":39,"y":47,"d":12},{"x":40,"y":47,"d":10},{"x":41,"y":47,"d":12},{"x":42,"y":47,"d":10},{"x":43,"y":47,"d":7},{"x":44,"y":47,"d":7},{"x":45,"y":47,"d":8},{"x":46,"y":47,"d":1},{"x":47,"y":47,"d":1},{"x":48,"y":47,"d":1},{"x":49,"y":47,"d":8},{"x":50,"y":47,"d":10},{"x":52,"y":47,"d":10},{"x":53,"y":47,"d":10},{"x":54,"y":47,"d":15},{"x":55,"y":47,"d":15},{"x":56,"y":47,"d":15},{"x":59,"y":47,"d":18},{"x":88,"y":47,"d":18},{"x":89,"y":47,"d":18},{"x":90,"y":47,"d":14},{"x":91,"y":47,"d":18},{"x":92,"y":47,"d":15},{"x":93,"y":47,"d":15},{"x":94,"y":47,"d":18},
{"x":36,"y":48,"d":18},{"x":37,"y":48,"d":18},{"x":38,"y":48,"d":18},{"x":39,"y":48,"d":17},{"x":40,"y":48,"d":14},{"x":41,"y":48,"d":14},{"x":42,"y":48,"d":13},{"x":43,"y":48,"d":10},{"x":44,"y":48,"d":10},{"x":45,"y":48,"d":10},{"x":46,"y":48,"d":8},{"x":47,"y":48,"d":1},{"x":48,"y":48,"d":1},{"x":49,"y":48,"d":1},{"x":50,"y":48,"d":7},{"x":51,"y":48,"d":10},{"x":52,"y":48,"d":10},{"x":53,"y":48,"d":10},{"x":54,"y":48,"d":10},{"x":55,"y":48,"d":14},{"x":56,"y":48,"d":15},{"x":57,"y":48,"d":15},{"x":90,"y":48,"d":18},{"x":92,"y":48,"d":18},{"x":93,"y":48,"d":18},
{"x":35,"y":49,"d":18},{"x":36,"y":49,"d":17},{"x":37,"y":49,"d":15},{"x":38,"y":49,"d":18},{"x":39,"y":49,"d":14},{"x":40,"y":49,"d":14},{"x":41,"y":49,"d":14},{"x":42,"y":49,"d":12},{"x":43,"y":49,"d":10},{"x":44,"y":49,"d":10},{"x":45,"y":49,"d":10},{"x":46,"y":49,"d":10},{"x":47,"y":49,"d":8},{"x":48,"y":49,"d":1},{"x":49,"y":49,"d":1},{"x":50,"y":49,"d":1},{"x":51,"y":49,"d":8},{"x":53,"y":49,"d":7},{"x":54,"y":49,"d":10},{"x":55,"y":49,"d":12},{"x":56,"y":49,"d":10},{"x":57,"y":49,"d":14},{"x":90,"y":49,"d":18},{"x":92,"y":49,"d":18},
{"x":32,"y":50,"d":18},{"x":35,"y":50,"d":18},{"x":36,"y":50,"d":18},{"x":37,"y":50,"d":18},{"x":38,"y":50,"d":18},{"x":39,"y":50,"d":18},{"x":40,"y":50,"d":14},{"x":41,"y":50,"d":14},{"x":42,"y":50,"d":14},{"x":44,"y":50,"d":10},{"x":45,"y":50,"d":10},{"x":47,"y":50,"d":10},{"x":48,"y":50,"d":7},{"x":49,"y":50,"d":1},{"x":50,"y":50,"d":1},{"x":51,"y":50,"d":1},{"x":52,"y":50,"d":5},{"x":53,"y":50,"d":5},{"x":54,"y":50,"d":10},{"x":55,"y":50,"d":10},{"x":56,"y":50,"d":10},{"x":58,"y":50,"d":14},{"x":90,"y":50,"d":18},
{"x":32,"y":51,"d":18},{"x":33,"y":51,"d":18},{"x":34,"y":51,"d":18},{"x":35,"y":51,"d":18},{"x":36,"y":51,"d":17},{"x":38,"y":51,"d":18},{"x":39,"y":51,"d":17},{"x":42,"y":51,"d":14},{"x":43,"y":51,"d":13},{"x":44,"y":51,"d":10},{"x":45,"y":51,"d":12},{"x":46,"y":51,"d":10},{"x":48,"y":51,"d":10},{"x":49,"y":51,"d":8},{"x":50,"y":51,"d":1},{"x":51,"y":51,"d":1},{"x":52,"y":51,"d":1},{"x":53,"y":51,"d":8},{"x":54,"y":51,"d":10},{"x":55,"y":51,"d":10},{"x":56,"y":51,"d":12},{"x":58,"y":51,"d":14},{"x":59,"y":51,"d":14},
{"x":34,"y":52,"d":18},{"x":35,"y":52,"d":18},{"x":38,"y":52,"d":18},{"x":39,"y":52,"d":18},{"x":40,"y":52,"d":15},{"x":41,"y":52,"d":15},{"x":42,"y":52,"d":15},{"x":43,"y":52,"d":14},{"x":47,"y":52,"d":10},{"x":48,"y":52,"d":10},{"x":50,"y":52,"d":5},{"x":51,"y":52,"d":1},{"x":52,"y":52,"d":1},{"x":53,"y":52,"d":1},{"x":54,"y":52,"d":8},{"x":55,"y":52,"d":10},{"x":57,"y":52,"d":10},{"x":59,"y":52,"d":13},
{"x":38,"y":53,"d":18},{"x":39,"y":53,"d":18},{"x":40,"y":53,"d":18},{"x":41,"y":53,"d":18},{"x":42,"y":53,"d":18},{"x":43,"y":53,"d":14},{"x":45,"y":53,"d":13},{"x":46,"y":53,"d":13},{"x":47,"y":53,"d":10},{"x":48,"y":53,"d":10},{"x":49,"y":53,"d":7},{"x":50,"y":53,"d":5},{"x":51,"y":53,"d":8},{"x":52,"y":53,"d":1},{"x":53,"y":53,"d":1},{"x":54,"y":53,"d":1},{"x":55,"y":53,"d":8},{"x":56,"y":53,"d":5},{"x":57,"y":53,"d":10},{"x":58,"y":53,"d":10},{"x":59,"y":53,"d":10},{"x":60,"y":53,"d":14},
{"x":37,"y":54,"d":18},{"x":38,"y":54,"d":18},{"x":39,"y":54,"d":18},{"x":42,"y":54,"d":18},{"x":44,"y":54,"d":13},{"x":47,"y":54,"d":14},{"x":48,"y":54,"d":10},{"x":49,"y":54,"d":10},{"x":50,"y":54,"d":10},{"x":51,"y":54,"d":10},{"x":52,"y":54,"d":8},{"x":53,"y":54,"d":1},{"x":54,"y":54,"d":1},{"x":55,"y":54,"d":1},{"x":56,"y":54,"d":8},{"x":57,"y":54,"d":10},{"x":59,"y":54,"d":10},{"x":60,"y":54,"d":14},
{"x":37,"y":55,"d":18},{"x":43,"y":55,"d":17},{"x":47,"y":55,"d":14},{"x":48,"y":55,"d":14},{"x":49,"y":55,"d":12},{"x":50,"y":55,"d":10},{"x":51,"y":55,"d":12},{"x":52,"y":55,"d":10},{"x":53,"y":55,"d":8},{"x":54,"y":55,"d":1},{"x":55,"y":55,"d":1},{"x":56,"y":55,"d":1},{"x":57,"y":55,"d":8},{"x":58,"y":55,"d":5},{"x":59,"y":55,"d":13},{"x":60,"y":55,"d":10},{"x":61,"y":55,"d":14},{"x":62,"y":55,"d":14},
{"x":43,"y":56,"d":17},{"x":44,"y":56,"d":17},{"x":47,"y":56,"d":14},{"x":48,"y":56,"d":13},{"x":49,"y":56,"d":10},{"x":50,"y":56,"d":10},{"x":51,"y":56,"d":10},{"x":53,"y":56,"d":5},{"x":54,"y":56,"d":8},{"x":55,"y":56,"d":1},{"x":56,"y":56,"d":1},{"x":57,"y":56,"d":1},{"x":58,"y":56,"d":8},{"x":60,"y":56,"d":10},{"x":62,"y":56,"d":14},
{"x":44,"y":57,"d":17},{"x":45,"y":57,"d":17},{"x":48,"y":57,"d":15},{"x":49,"y":57,"d":15},{"x":52,"y":57,"d":10},{"x":53,"y":57,"d":10},{"x":54,"y":57,"d":10},{"x":55,"y":57,"d":8},{"x":56,"y":57,"d":1},{"x":57,"y":57,"d":1},{"x":58,"y":57,"d":1},{"x":59,"y":57,"d":8},{"x":60,"y":57,"d":10},{"x":61,"y":57,"d":13},{"x":64,"y":57,"d":17},
{"x":46,"y":58,"d":17},{"x":50,"y":58,"d":14},{"x":51,"y":58,"d":14},{"x":53,"y":58,"d":10},{"x":55,"y":58,"d":5},{"x":56,"y":58,"d":8},{"x":57,"y":58,"d":1},{"x":58,"y":58,"d":1},{"x":59,"y":58,"d":1},{"x":60,"y":58,"d":8},{"x":61,"y":58,"d":10},{"x":62,"y":58,"d":13},{"x":64,"y":58,"d":17},{"x":65,"y":58,"d":17},
{"x":43,"y":59,"d":18},{"x":44,"y":59,"d":18},{"x":47,"y":59,"d":18},{"x":51,"y":59,"d":14},{"x":52,"y":59,"d":14},{"x":53,"y":59,"d":10},{"x":54,"y":59,"d":10},{"x":55,"y":59,"d":13},{"x":57,"y":59,"d":8},{"x":58,"y":59,"d":1},{"x":59,"y":59,"d":1},{"x":60,"y":59,"d":1},{"x":61,"y":59,"d":8},{"x":62,"y":59,"d":10},{"x":63,"y":59,"d":13},
{"x":43,"y":60,"d":18},{"x":44,"y":60,"d":18},{"x":53,"y":60,"d":15},{"x":54,"y":60,"d":15},{"x":55,"y":60,"d":10},{"x":56,"y":60,"d":12},{"x":57,"y":60,"d":12},{"x":58,"y":60,"d":8},{"x":59,"y":60,"d":1},{"x":60,"y":60,"d":1},{"x":61,"y":60,"d":1},{"x":62,"y":60,"d":8},{"x":63,"y":60,"d":10},{"x":64,"y":60,"d":13},
{"x":44,"y":61,"d":18},{"x":55,"y":61,"d":13},{"x":57,"y":61,"d":13},{"x":58,"y":61,"d":12},{"x":59,"y":61,"d":8},{"x":60,"y":61,"d":1},{"x":61,"y":61,"d":1},{"x":62,"y":61,"d":1},{"x":63,"y":61,"d":8},{"x":64,"y":61,"d":10},{"x":65,"y":61,"d":12},
{"x":44,"y":62,"d":18},{"x":55,"y":62,"d":15},{"x":56,"y":62,"d":15},{"x":58,"y":62,"d":14},{"x":59,"y":62,"d":12},{"x":60,"y":62,"d":8},{"x":61,"y":62,"d":1},{"x":62,"y":62,"d":1},{"x":63,"y":62,"d":1},{"x":64,"y":62,"d":8},{"x":65,"y":62,"d":10},{"x":66,"y":62,"d":13},
{"x":43,"y":63,"d":18},{"x":59,"y":63,"d":13},{"x":60,"y":63,"d":10},{"x":61,"y":63,"d":8},{"x":62,"y":63,"d":1},{"x":63,"y":63,"d":1},{"x":64,"y":63,"d":1},{"x":65,"y":63,"d":8},{"x":66,"y":63,"d":10},{"x":67,"y":63,"d":13},
{"x":57,"y":64,"d":15},{"x":58,"y":64,"d":15},{"x":60,"y":64,"d":14},{"x":61,"y":64,"d":12},{"x":62,"y":64,"d":8},{"x":63,"y":64,"d":1},{"x":64,"y":64,"d":1},{"x":65,"y":64,"d":1},{"x":66,"y":64,"d":8},{"x":67,"y":64,"d":10},{"x":68,"y":64,"d":14},
{"x":58,"y":65,"d":15},{"x":61,"y":65,"d":13},{"x":62,"y":65,"d":12},{"x":63,"y":65,"d":8},{"x":64,"y":65,"d":1},{"x":65,"y":65,"d":1},{"x":66,"y":65,"d":1},{"x":67,"y":65,"d":8},{"x":68,"y":65,"d":10},{"x":69,"y":65,"d":13},
{"x":62,"y":66,"d":13},{"x":63,"y":66,"d":12},{"x":64,"y":66,"d":8},{"x":65,"y":66,"d":1},{"x":66,"y":66,"d":1},{"x":67,"y":66,"d":1},{"x":68,"y":66,"d":8},{"x":69,"y":66,"d":10},{"x":70,"y":66,"d":13},
{"x":63,"y":67,"d":13},{"x":64,"y":67,"d":12},{"x":65,"y":67,"d":8},{"x":66,"y":67,"d":1},{"x":67,"y":67,"d":1},{"x":68,"y":67,"d":1},{"x":69,"y":67,"d":8},{"x":70,"y":67,"d":10},{"x":71,"y":67,"d":13},
{"x":39,"y":68,"d":17},{"x":40,"y":68,"d":17},{"x":64,"y":68,"d":13},{"x":65,"y":68,"d":12},{"x":66,"y":68,"d":8},{"x":67,"y":68,"d":1},{"x":68,"y":68,"d":1},{"x":69,"y":68,"d":1},{"x":70,"y":68,"d":8},{"x":71,"y":68,"d":10},{"x":72,"y":68,"d":13},{"x":73,"y":68,"d":13},
{"x":65,"y":69,"d":13},{"x":66,"y":69,"d":12},{"x":67,"y":69,"d":8},{"x":68,"y":69,"d":1},{"x":69,"y":69,"d":1},{"x":70,"y":69,"d":1},{"x":71,"y":69,"d":8},{"x":72,"y":69,"d":10},{"x":73,"y":69,"d":13},{"x":74,"y":69,"d":15},{"x":75,"y":69,"d":15},
{"x":40,"y":70,"d":17},{"x":66,"y":70,"d":13},{"x":67,"y":70,"d":12},{"x":68,"y":70,"d":8},{"x":69,"y":70,"d":1},{"x":70,"y":70,"d":1},{"x":71,"y":70,"d":1},{"x":72,"y":70,"d":8},{"x":73,"y":70,"d":10},{"x":74,"y":70,"d":13},{"x":75,"y":70,"d":15},{"x":76,"y":70,"d":18},{"x":78,"y":70,"d":18},
{"x":67,"y":71,"d":13},{"x":68,"y":71,"d":12},{"x":69,"y":71,"d":8},{"x":70,"y":71,"d":1},{"x":71,"y":71,"d":1},{"x":72,"y":71,"d":1},{"x":73,"y":71,"d":8},{"x":74,"y":71,"d":10},{"x":75,"y":71,"d":13},{"x":76,"y":71,"d":15},{"x":77,"y":71,"d":15},{"x":78,"y":71,"d":18},
{"x":68,"y":72,"d":13},{"x":69,"y":72,"d":10},{"x":70,"y":72,"d":8},{"x":71,"y":72,"d":1},{"x":72,"y":72,"d":1},{"x":73,"y":72,"d":1},{"x":74,"y":72,"d":8},{"x":75,"y":72,"d":10},{"x":76,"y":72,"d":13},{"x":77,"y":72,"d":14},{"x":78,"y":72,"d":17},
{"x":68,"y":73,"d":14},{"x":69,"y":73,"d":13},{"x":70,"y":73,"d":10},{"x":71,"y":73,"d":8},{"x":72,"y":73,"d":1},{"x":73,"y":73,"d":1},{"x":74,"y":73,"d":1},{"x":75,"y":73,"d":8},{"x":76,"y":73,"d":10},{"x":77,"y":73,"d":13},{"x":79,"y":73,"d":15},
{"x":69,"y":74,"d":14},{"x":70,"y":74,"d":13},{"x":71,"y":74,"d":10},{"x":72,"y":74,"d":8},{"x":73,"y":74,"d":1},{"x":74,"y":74,"d":1},{"x":75,"y":74,"d":1},{"x":76,"y":74,"d":8},{"x":77,"y":74,"d":10},{"x":78,"y":74,"d":13},{"x":80,"y":74,"d":15},{"x":81,"y":74,"d":15},
{"x":70,"y":75,"d":15},{"x":71,"y":75,"d":13},{"x":72,"y":75,"d":10},{"x":73,"y":75,"d":8},{"x":74,"y":75,"d":1},{"x":75,"y":75,"d":1},{"x":76,"y":75,"d":1},{"x":77,"y":75,"d":8},{"x":78,"y":75,"d":10},{"x":79,"y":75,"d":12},{"x":81,"y":75,"d":15},{"x":82,"y":75,"d":18},
{"x":70,"y":76,"d":17},{"x":71,"y":76,"d":14},{"x":72,"y":76,"d":13},{"x":73,"y":76,"d":10},{"x":74,"y":76,"d":8},{"x":75,"y":76,"d":1},{"x":76,"y":76,"d":1},{"x":77,"y":76,"d":1},{"x":78,"y":76,"d":8},{"x":79,"y":76,"d":10},{"x":80,"y":76,"d":13},{"x":82,"y":76,"d":17},{"x":83,"y":76,"d":18},
{"x":70,"y":77,"d":15},{"x":71,"y":77,"d":14},{"x":72,"y":77,"d":14},{"x":73,"y":77,"d":12},{"x":74,"y":77,"d":10},{"x":75,"y":77,"d":8},{"x":76,"y":77,"d":1},{"x":77,"y":77,"d":1},{"x":78,"y":77,"d":1},{"x":79,"y":77,"d":8},{"x":80,"y":77,"d":10},{"x":81,"y":77,"d":13},{"x":82,"y":77,"d":15},{"x":83,"y":77,"d":17},{"x":84,"y":77,"d":17},
{"x":70,"y":78,"d":18},{"x":71,"y":78,"d":18},{"x":72,"y":78,"d":18},{"x":74,"y":78,"d":12},{"x":75,"y":78,"d":10},{"x":76,"y":78,"d":8},{"x":77,"y":78,"d":1},{"x":78,"y":78,"d":1},{"x":79,"y":78,"d":1},{"x":80,"y":78,"d":8},{"x":81,"y":78,"d":10},{"x":82,"y":78,"d":13},{"x":84,"y":78,"d":17},
{"x":73,"y":79,"d":14},{"x":75,"y":79,"d":13},{"x":76,"y":79,"d":10},{"x":77,"y":79,"d":8},{"x":78,"y":79,"d":1},{"x":79,"y":79,"d":1},{"x":80,"y":79,"d":1},{"x":81,"y":79,"d":8},{"x":82,"y":79,"d":10},{"x":83,"y":79,"d":12},{"x":85,"y":79,"d":17},
{"x":74,"y":80,"d":15},{"x":76,"y":80,"d":12},{"x":77,"y":80,"d":10},{"x":78,"y":80,"d":8},{"x":79,"y":80,"d":1},{"x":80,"y":80,"d":1},{"x":81,"y":80,"d":1},{"x":82,"y":80,"d":8},{"x":83,"y":80,"d":10},{"x":84,"y":80,"d":13},{"x":86,"y":80,"d":17},{"x":34,"y":80,"d":18},
{"x":74,"y":81,"d":15},{"x":75,"y":81,"d":15},{"x":77,"y":81,"d":13},{"x":78,"y":81,"d":12},{"x":79,"y":81,"d":8},{"x":80,"y":81,"d":1},{"x":81,"y":81,"d":1},{"x":82,"y":81,"d":1},{"x":83,"y":81,"d":8},{"x":84,"y":81,"d":10},{"x":85,"y":81,"d":13},{"x":87,"y":81,"d":17},{"x":88,"y":81,"d":17},
{"x":36,"y":82,"d":18},{"x":37,"y":82,"d":18},{"x":75,"y":82,"d":17},{"x":76,"y":82,"d":17},{"x":77,"y":82,"d":14},{"x":78,"y":82,"d":13},{"x":79,"y":82,"d":12},{"x":80,"y":82,"d":8},{"x":81,"y":82,"d":1},{"x":82,"y":82,"d":1},{"x":83,"y":82,"d":1},{"x":84,"y":82,"d":8},{"x":85,"y":82,"d":10},{"x":86,"y":82,"d":13},{"x":87,"y":82,"d":15},{"x":88,"y":82,"d":17},
{"x":33,"y":83,"d":18},{"x":34,"y":83,"d":18},{"x":35,"y":83,"d":18},{"x":36,"y":83,"d":18},{"x":37,"y":83,"d":18},{"x":39,"y":83,"d":18},{"x":40,"y":83,"d":18},{"x":76,"y":83,"d":18},{"x":77,"y":83,"d":18},{"x":79,"y":83,"d":13},{"x":80,"y":83,"d":12},{"x":81,"y":83,"d":8},{"x":82,"y":83,"d":1},{"x":83,"y":83,"d":1},{"x":84,"y":83,"d":1},{"x":85,"y":83,"d":8},{"x":86,"y":83,"d":10},{"x":87,"y":83,"d":13},{"x":89,"y":83,"d":17},
{"x":32,"y":84,"d":18},{"x":33,"y":84,"d":18},{"x":34,"y":84,"d":18},{"x":35,"y":84,"d":18},{"x":36,"y":84,"d":18},{"x":37,"y":84,"d":18},{"x":39,"y":84,"d":18},{"x":40,"y":84,"d":18},{"x":77,"y":84,"d":18},{"x":78,"y":84,"d":18},{"x":80,"y":84,"d":13},{"x":81,"y":84,"d":12},{"x":82,"y":84,"d":8},{"x":83,"y":84,"d":1},{"x":84,"y":84,"d":1},{"x":85,"y":84,"d":1},{"x":86,"y":84,"d":8},{"x":87,"y":84,"d":10},{"x":88,"y":84,"d":13},{"x":89,"y":84,"d":14},{"x":90,"y":84,"d":15},
{"x":15,"y":85,"d":18},{"x":16,"y":85,"d":18},{"x":33,"y":85,"d":18},{"x":34,"y":85,"d":18},{"x":35,"y":85,"d":18},{"x":36,"y":85,"d":18},{"x":37,"y":85,"d":18},{"x":38,"y":85,"d":18},{"x":39,"y":85,"d":18},{"x":40,"y":85,"d":18},{"x":41,"y":85,"d":18},{"x":43,"y":85,"d":18},{"x":79,"y":85,"d":17},{"x":81,"y":85,"d":13},{"x":82,"y":85,"d":10},{"x":83,"y":85,"d":8},{"x":84,"y":85,"d":1},{"x":85,"y":85,"d":1},{"x":86,"y":85,"d":1},{"x":87,"y":85,"d":8},{"x":88,"y":85,"d":10},{"x":89,"y":85,"d":13},{"x":90,"y":85,"d":13},{"x":91,"y":85,"d":13},
{"x":15,"y":86,"d":18},{"x":28,"y":86,"d":18},{"x":29,"y":86,"d":18},{"x":31,"y":86,"d":18},{"x":33,"y":86,"d":18},{"x":34,"y":86,"d":17},{"x":35,"y":86,"d":18},{"x":36,"y":86,"d":12},{"x":37,"y":86,"d":18},{"x":38,"y":86,"d":18},{"x":39,"y":86,"d":18},{"x":40,"y":86,"d":18},{"x":41,"y":86,"d":18},{"x":42,"y":86,"d":18},{"x":43,"y":86,"d":18},{"x":44,"y":86,"d":18},{"x":80,"y":86,"d":15},{"x":82,"y":86,"d":13},{"x":83,"y":86,"d":10},{"x":84,"y":86,"d":8},{"x":85,"y":86,"d":1},{"x":86,"y":86,"d":1},{"x":87,"y":86,"d":1},{"x":88,"y":86,"d":8},{"x":89,"y":86,"d":12},{"x":90,"y":86,"d":13},{"x":91,"y":86,"d":10},{"x":92,"y":86,"d":14},
{"x":3,"y":87,"d":18},{"x":15,"y":87,"d":18},{"x":28,"y":87,"d":18},{"x":30,"y":87,"d":18},{"x":31,"y":87,"d":18},{"x":33,"y":87,"d":10},{"x":34,"y":87,"d":10},{"x":37,"y":87,"d":13},{"x":38,"y":87,"d":18},{"x":39,"y":87,"d":12},{"x":40,"y":87,"d":14},{"x":41,"y":87,"d":18},{"x":42,"y":87,"d":18},{"x":43,"y":87,"d":17},{"x":44,"y":87,"d":18},{"x":81,"y":87,"d":18},{"x":82,"y":87,"d":15},{"x":83,"y":87,"d":13},{"x":84,"y":87,"d":10},{"x":85,"y":87,"d":8},{"x":86,"y":87,"d":1},{"x":87,"y":87,"d":1},{"x":88,"y":87,"d":1},{"x":89,"y":87,"d":8},{"x":90,"y":87,"d":10},{"x":92,"y":87,"d":12},{"x":94,"y":87,"d":15},
{"x":15,"y":88,"d":18},{"x":16,"y":88,"d":18},{"x":28,"y":88,"d":18},{"x":29,"y":88,"d":18},{"x":30,"y":88,"d":18},{"x":31,"y":88,"d":17},{"x":33,"y":88,"d":13},{"x":34,"y":88,"d":17},{"x":35,"y":88,"d":12},{"x":36,"y":88,"d":8},{"x":37,"y":88,"d":13},{"x":38,"y":88,"d":18},{"x":39,"y":88,"d":12},{"x":40,"y":88,"d":13},{"x":41,"y":88,"d":14},{"x":42,"y":88,"d":18},{"x":43,"y":88,"d":15},{"x":44,"y":88,"d":17},{"x":47,"y":88,"d":18},{"x":81,"y":88,"d":18},{"x":82,"y":88,"d":18},{"x":84,"y":88,"d":13},{"x":85,"y":88,"d":12},{"x":86,"y":88,"d":8},{"x":87,"y":88,"d":1},{"x":88,"y":88,"d":1},{"x":89,"y":88,"d":1},{"x":90,"y":88,"d":8},{"x":91,"y":88,"d":10},{"x":93,"y":88,"d":13},{"x":95,"y":88,"d":17},
{"x":8,"y":89,"d":8},{"x":12,"y":89,"d":18},{"x":28,"y":89,"d":18},{"x":30,"y":89,"d":15},{"x":31,"y":89,"d":15},{"x":33,"y":89,"d":12},{"x":34,"y":89,"d":13},{"x":35,"y":89,"d":13},{"x":36,"y":89,"d":8},{"x":37,"y":89,"d":12},{"x":38,"y":89,"d":13},{"x":39,"y":89,"d":12},{"x":40,"y":89,"d":10},{"x":41,"y":89,"d":13},{"x":42,"y":89,"d":15},{"x":43,"y":89,"d":15},{"x":44,"y":89,"d":15},{"x":45,"y":89,"d":18},{"x":46,"y":89,"d":18},{"x":47,"y":89,"d":18},{"x":83,"y":89,"d":17},{"x":84,"y":89,"d":14},{"x":85,"y":89,"d":13},{"x":86,"y":89,"d":10},{"x":87,"y":89,"d":8},{"x":88,"y":89,"d":1},{"x":89,"y":89,"d":1},{"x":90,"y":89,"d":1},{"x":91,"y":89,"d":8},{"x":92,"y":89,"d":10},{"x":93,"y":89,"d":13},{"x":94,"y":89,"d":10},
{"x":12,"y":90,"d":18},{"x":30,"y":90,"d":12},{"x":31,"y":90,"d":12},{"x":33,"y":90,"d":7},{"x":34,"y":90,"d":10},{"x":35,"y":90,"d":10},{"x":36,"y":90,"d":5},{"x":37,"y":90,"d":5},{"x":38,"y":90,"d":10},{"x":39,"y":90,"d":8},{"x":40,"y":90,"d":5},{"x":41,"y":90,"d":10},{"x":42,"y":90,"d":10},{"x":43,"y":90,"d":10},{"x":44,"y":90,"d":10},{"x":45,"y":90,"d":13},{"x":46,"y":90,"d":15},{"x":47,"y":90,"d":12},{"x":48,"y":90,"d":18},{"x":49,"y":90,"d":18},{"x":50,"y":90,"d":18},{"x":84,"y":90,"d":17},{"x":85,"y":90,"d":14},{"x":86,"y":90,"d":13},{"x":87,"y":90,"d":12},{"x":88,"y":90,"d":8},{"x":89,"y":90,"d":1},{"x":90,"y":90,"d":1},{"x":91,"y":90,"d":1},{"x":92,"y":90,"d":8},{"x":93,"y":90,"d":10},{"x":94,"y":90,"d":14},{"x":95,"y":90,"d":12},
{"x":11,"y":91,"d":18},{"x":12,"y":91,"d":18},{"x":29,"y":91,"d":13},{"x":30,"y":91,"d":13},{"x":33,"y":91,"d":12},{"x":34,"y":91,"d":15},{"x":35,"y":91,"d":13},{"x":36,"y":91,"d":8},{"x":37,"y":91,"d":12},{"x":38,"y":91,"d":14},{"x":39,"y":91,"d":13},{"x":40,"y":91,"d":8},{"x":41,"y":91,"d":13},{"x":42,"y":91,"d":15},{"x":43,"y":91,"d":13},{"x":44,"y":91,"d":14},{"x":45,"y":91,"d":17},{"x":46,"y":91,"d":18},{"x":47,"y":91,"d":18},{"x":85,"y":91,"d":14},{"x":86,"y":91,"d":12},{"x":88,"y":91,"d":10},{"x":89,"y":91,"d":8},{"x":90,"y":91,"d":1},{"x":91,"y":91,"d":1},{"x":92,"y":91,"d":1},{"x":93,"y":91,"d":8},{"x":94,"y":91,"d":5},{"x":96,"y":91,"d":10},{"x":97,"y":91,"d":10},{"x":99,"y":91,"d":12},
{"x":4,"y":92,"d":8},{"x":14,"y":92,"d":18},{"x":30,"y":92,"d":17},{"x":34,"y":92,"d":17},{"x":35,"y":92,"d":17},{"x":37,"y":92,"d":13},{"x":38,"y":92,"d":15},{"x":39,"y":92,"d":13},{"x":40,"y":92,"d":13},{"x":41,"y":92,"d":13},{"x":42,"y":92,"d":18},{"x":45,"y":92,"d":18},{"x":46,"y":92,"d":18},{"x":47,"y":92,"d":13},{"x":48,"y":92,"d":18},{"x":49,"y":92,"d":18},{"x":86,"y":92,"d":13},{"x":87,"y":92,"d":10},{"x":89,"y":92,"d":10},{"x":90,"y":92,"d":8},{"x":91,"y":92,"d":1},{"x":92,"y":92,"d":1},{"x":93,"y":92,"d":1},{"x":94,"y":92,"d":8},{"x":96,"y":92,"d":13},{"x":97,"y":92,"d":10},{"x":98,"y":92,"d":10},{"x":100,"y":92,"d":13},
{"x":38,"y":93,"d":12},{"x":39,"y":93,"d":12},{"x":40,"y":93,"d":8},{"x":41,"y":93,"d":12},{"x":42,"y":93,"d":12},{"x":43,"y":93,"d":12},{"x":44,"y":93,"d":12},{"x":45,"y":93,"d":13},{"x":46,"y":93,"d":18},{"x":47,"y":93,"d":13},{"x":48,"y":93,"d":18},{"x":88,"y":93,"d":12},{"x":89,"y":93,"d":12},{"x":90,"y":93,"d":10},{"x":91,"y":93,"d":8},{"x":92,"y":93,"d":1},{"x":93,"y":93,"d":1},{"x":94,"y":93,"d":1},{"x":95,"y":93,"d":8},{"x":96,"y":93,"d":10},{"x":97,"y":93,"d":10},{"x":98,"y":93,"d":10},{"x":99,"y":93,"d":13},
{"x":38,"y":94,"d":18},{"x":39,"y":94,"d":18},{"x":40,"y":94,"d":15},{"x":41,"y":94,"d":15},{"x":42,"y":94,"d":18},{"x":43,"y":94,"d":15},{"x":44,"y":94,"d":15},{"x":45,"y":94,"d":18},{"x":46,"y":94,"d":18},{"x":47,"y":94,"d":18},{"x":87,"y":94,"d":14},{"x":89,"y":94,"d":10},{"x":90,"y":94,"d":14},{"x":91,"y":94,"d":5},{"x":92,"y":94,"d":8},{"x":93,"y":94,"d":1},{"x":94,"y":94,"d":1},{"x":95,"y":94,"d":1},{"x":96,"y":94,"d":8},{"x":99,"y":94,"d":12},{"x":100,"y":94,"d":12},
{"x":38,"y":95,"d":18},{"x":42,"y":95,"d":18},{"x":88,"y":95,"d":14},{"x":90,"y":95,"d":10},{"x":93,"y":95,"d":8},{"x":94,"y":95,"d":1},{"x":95,"y":95,"d":1},{"x":96,"y":95,"d":1},{"x":97,"y":95,"d":7},{"x":99,"y":95,"d":10},{"x":100,"y":95,"d":10},
{"x":39,"y":96,"d":18},{"x":40,"y":96,"d":18},{"x":41,"y":96,"d":18},{"x":91,"y":96,"d":10},{"x":92,"y":96,"d":14},{"x":93,"y":96,"d":10},{"x":94,"y":96,"d":8},{"x":95,"y":96,"d":1},{"x":96,"y":96,"d":1},{"x":97,"y":96,"d":1},{"x":98,"y":96,"d":7},{"x":99,"y":96,"d":10},{"x":100,"y":96,"d":12},
{"x":39,"y":97,"d":18},{"x":40,"y":97,"d":18},{"x":41,"y":97,"d":18},{"x":91,"y":97,"d":10},{"x":92,"y":97,"d":10},{"x":93,"y":97,"d":12},{"x":95,"y":97,"d":7},{"x":96,"y":97,"d":1},{"x":97,"y":97,"d":1},{"x":98,"y":97,"d":1},{"x":99,"y":97,"d":5},
{"x":40,"y":98,"d":18},{"x":92,"y":98,"d":10},{"x":93,"y":98,"d":10},{"x":96,"y":98,"d":7},{"x":97,"y":98,"d":1},{"x":98,"y":98,"d":1},{"x":99,"y":98,"d":1},{"x":100,"y":98,"d":7},
{"x":91,"y":99,"d":12},{"x":93,"y":99,"d":14},{"x":94,"y":99,"d":10},{"x":95,"y":99,"d":10},{"x":96,"y":99,"d":10},{"x":97,"y":99,"d":5},{"x":98,"y":99,"d":1},{"x":99,"y":99,"d":1},{"x":100,"y":99,"d":1},
{"x":43,"y":100,"d":18},{"x":92,"y":100,"d":13},{"x":94,"y":100,"d":10},{"x":95,"y":100,"d":10},{"x":96,"y":100,"d":10},{"x":98,"y":100,"d":7},{"x":99,"y":100,"d":1},{"x":100,"y":100,"d":1}
]},"layer":[{"mark":{"type":"rect","width":17,"height":17,"clip":true},"encoding":{"x":{"field":"x","type":"quantitative","scale":{"domain":[0.5,100.5],"nice":false,"zero":false},"axis":{"values":[20,40,60,80,100],"grid":false,"domain":false,"tickSize":6,"tickColor":"#333333","labelExpr":"datum.value==100?'':datum.label","labelFont":"Liberation Sans","labelFontSize":62,"labelFontWeight":"bold","labelColor":"black","labelPadding":-1,"title":"Residue index","titleFont":"Liberation Sans","titleFontSize":60,"titleFontWeight":"bold","titleColor":"black","titlePadding":-3}},"y":{"field":"y","type":"quantitative","scale":{"domain":[0.5,100.5],"nice":false,"zero":false},"axis":{"values":[20,40,60,80,100],"grid":false,"domain":false,"tickSize":6,"tickColor":"#333333","labelExpr":"datum.value==100?'':datum.label","labelFont":"Liberation Sans","labelFontSize":62,"labelFontWeight":"bold","labelColor":"black","labelPadding":6,"title":"Residue index","titleFont":"Liberation Sans","titleFontSize":60,"titleFontWeight":"bold","titleColor":"black","titlePadding":28}},"color":{"field":"d","type":"quantitative","legend":null,"scale":{"type":"threshold","domain":[2,3.29,4.58,5.86,7.15,8.43,9.72,11,12.29,13.58,14.86,16.15,17.43,18.72,20],"range":["#ff0000","#ff2000","#ff4d00","#ff6a00","#ff8c00","#ffa500","#a5bf84","#a0bb86","#93b08d","#86a795","#7a9e9d","#6f96a5","#6590ae","#5a86b9","#5583bd","#0000ff"]}}}},{"data":{"values":[{"x":1,"y":1}]},"mark":{"type":"rect","opacity":0,"width":1,"height":1},"encoding":{"x":{"field":"x","type":"quantitative","scale":{"domain":[0.5,100.5],"nice":false,"zero":false},"axis":{"orient":"top","values":[20,40,60,80,100],"grid":false,"domain":false,"tickSize":6,"tickColor":"#333333","labels":false,"title":null}},"y":{"field":"y","type":"quantitative","scale":{"domain":[0.5,100.5],"nice":false,"zero":false},"axis":{"orient":"right","values":[20,40,60,80,100],"grid":false,"domain":false,"tickSize":6,"tickColor":"#333333","labels":false,"title":null}}}}],"resolve":{"axis":{"x":"independent","y":"independent"}}},{"width":13,"height":1663,"view":{"stroke":"#333333"},"data":{"values":[{"a":0.72,"b":2,"d":1},{"a":2,"b":3.29,"d":3},{"a":3.29,"b":4.58,"d":4},{"a":4.58,"b":5.86,"d":5},{"a":5.86,"b":7.15,"d":7},{"a":7.15,"b":8.43,"d":8},{"a":8.43,"b":9.72,"d":9},{"a":9.72,"b":11,"d":10},{"a":11,"b":12.29,"d":12},{"a":12.29,"b":13.58,"d":13},{"a":13.58,"b":14.86,"d":14},{"a":14.86,"b":16.15,"d":15},{"a":16.15,"b":17.43,"d":17},{"a":17.43,"b":18.72,"d":18},{"a":18.72,"b":20,"d":19},{"a":20,"b":21.29,"d":21}]},"mark":{"type":"rect"},"encoding":{"y":{"field":"a","type":"quantitative","scale":{"domain":[0.72,21.29],"nice":false,"zero":false},"axis":{"orient":"right","values":[5,10,15,20],"grid":false,"domain":false,"tickSize":5,"tickColor":"#333333","labelFont":"Liberation Sans","labelFontSize":48,"labelFontWeight":"bold","labelColor":"black","labelPadding":3,"title":null}},"y2":{"field":"b"},"color":{"field":"d","type":"quantitative","legend":null,"scale":{"type":"threshold","domain":[2,3.29,4.58,5.86,7.15,8.43,9.72,11,12.29,13.58,14.86,16.15,17.43,18.72,20],"range":["#ff0000","#ff2000","#ff4d00","#ff6a00","#ff8c00","#ffa500","#a5bf84","#a0bb86","#93b08d","#86a795","#7a9e9d","#6f96a5","#6590ae","#5a86b9","#5583bd","#0000ff"]}}}}]}
